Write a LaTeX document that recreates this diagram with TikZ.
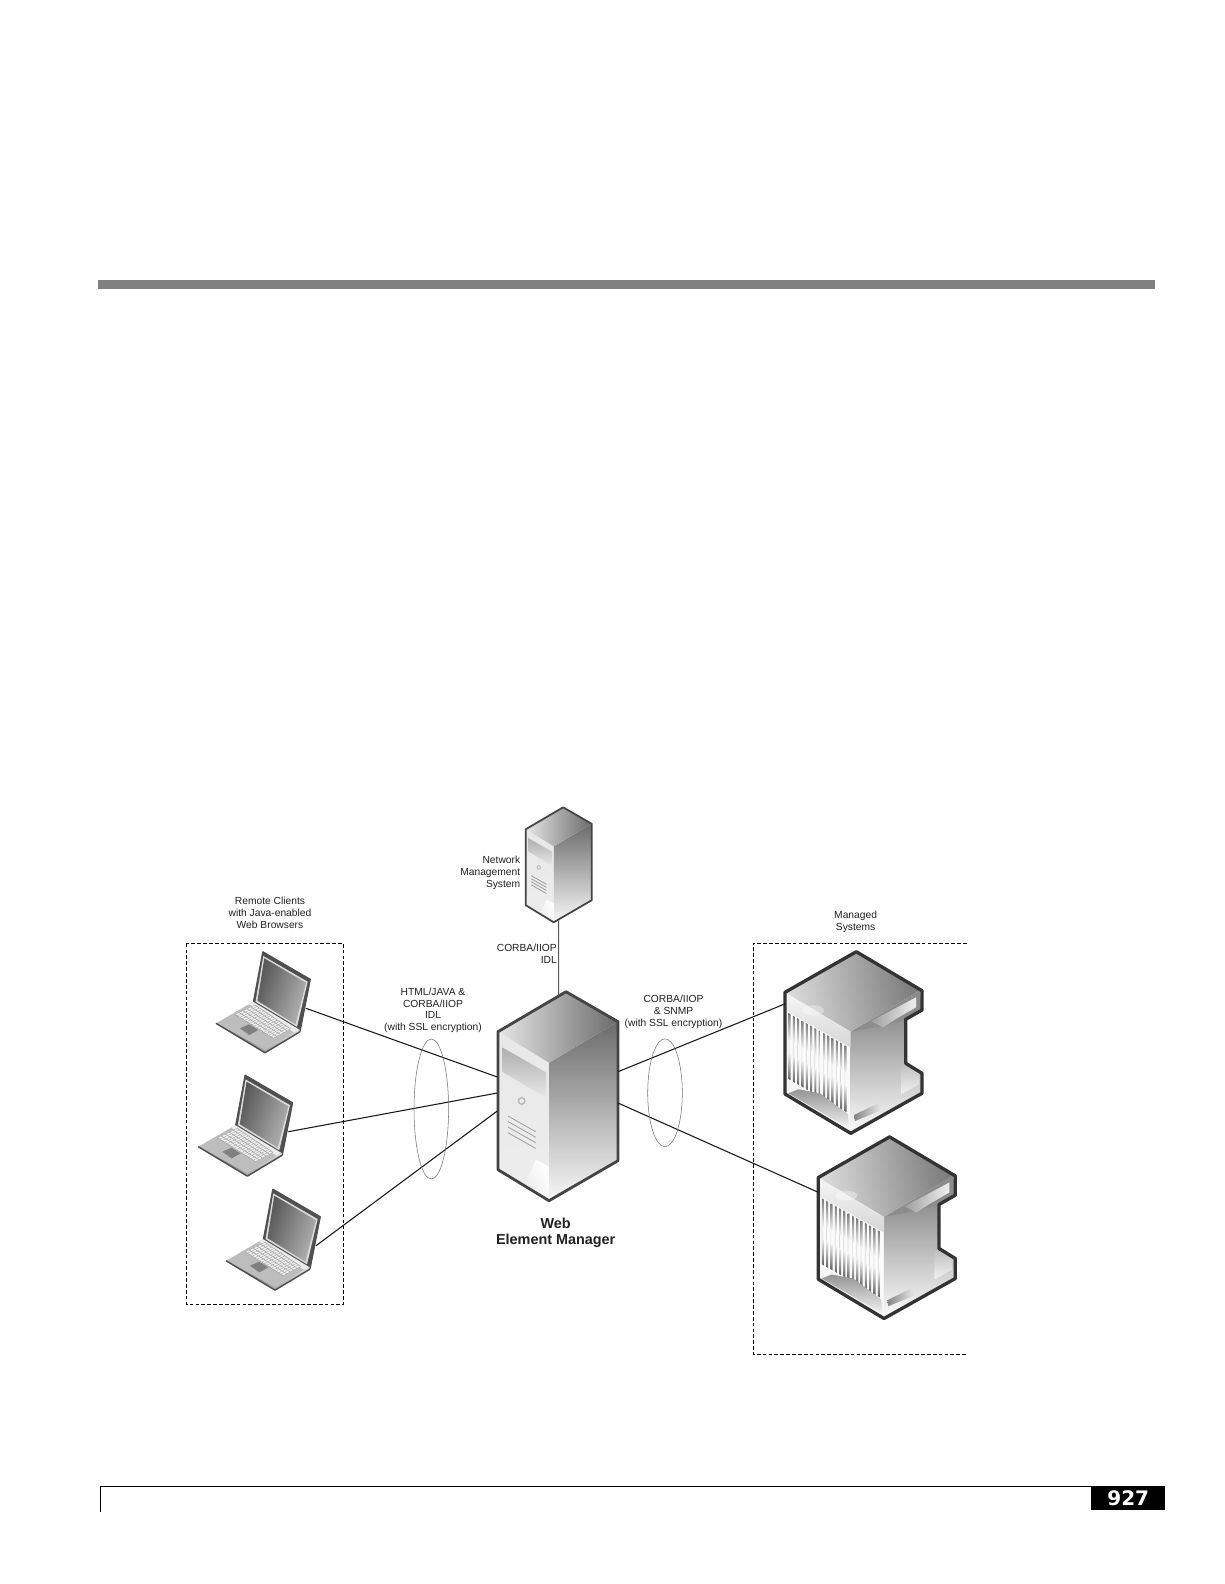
\documentclass[tikz,border=0pt]{standalone}
\usepackage{fontspec}
\setmainfont{Liberation Sans}
\newfontfamily\pagenofont{DejaVu Sans}
\usetikzlibrary{calc}
\definecolor{txtc}{HTML}{222222}
\definecolor{towerframe}{HTML}{444444}
\definecolor{chassisframe}{HTML}{333333}
\definecolor{lapframe}{HTML}{505050}
\tikzset{
  lbl/.style={inner sep=0pt,text=txtc,font=\fontsize{7.7}{8.8}\selectfont},
  boldlbl/.style={inner sep=0pt,text=txtc,font=\bfseries\fontsize{10.8}{12.2}\selectfont},
  boxline/.style={line width=.75pt,black,dash pattern=on 2.8pt off 1.6pt},
  linkline/.style={line width=.8pt,black!90},
  ringline/.style={line width=.4pt,black!55},
  pics/tower/.style={code={
    \coordinate (-w1) at (-.7,45.3);
    \coordinate (-w2) at (-.7,61.3);
    \coordinate (-w3) at (-.7,79.3);
    \coordinate (-e1) at (120,40);
    \coordinate (-e2) at (120,71.3);
    \coordinate (-t) at (60.7,-35.7);
    \coordinate (-b) at (60,165);
    \shade[top color=black!9,bottom color=black!7] (0,0)--(51,31)--(51,169)--(0,138)--cycle;
    \shade[left color=black!8,right color=white,shading angle=120] (25,154)--(51,169)--(51,135)--(38,128)--cycle;
    \shade[top color=black!58,bottom color=black!3] (51,31)--(120,-10)--(120,129)--(51,169)--cycle;
    \shade[left color=black!10,right color=black!58] (0,0)--(68,-40)--(120,-10)--(51,31)--cycle;
    \shade[top color=black!32,bottom color=black!9] (4.3,15.7)--(48,40.7)--(48,66)--(4.3,40)--cycle;
    \fill[black!28] (23.7,69.3) circle [radius=4];
    \fill[black!8] (23.7,69.3) circle [radius=2.3];
    \foreach \s in {0,5.5,11,16.7}
      \draw[black!38,line width=.6pt] (10,84.3+\s)--(37.7,100+\s);
    \draw[towerframe,line width=#1,line join=round] (0,0)--(68,-40)--(120,-10)--(120,129)--(51,169)--(0,138)--cycle;
  }},
  pics/laptop/.style={code={
    \coordinate (-port) at (90,-15);
    % base
    \fill[black!26] (0,0)--(37.3,-21.6)--(84,8.4)--(49,29.4)--cycle;
    \fill[black!8] (37.3,-21.6)--(83,6.7)--(84,8.4)--(78,9)--(33,-19)--cycle;
    % lip
    \shade[left color=black!60,right color=black!12] (0,0)--(49,26.5)--(84,5.5)--(84,8.4)--(49,29.4)--cycle;
    \draw[lapframe,line width=1.1pt,line join=round] (0,0)--(49,29.4)--(84,8.4);
    % keyboard
    \fill[black!6] (19,-9)--(39,-18.3)--(74.7,5.7)--(57.3,15)--cycle;
    \foreach \t in {0,.2,.4,.6,.8,1}
      \draw[black!40,line width=.35pt] ($(19,-9)!\t!(39,-18.3)$)--($(57.3,15)!\t!(74.7,5.7)$);
    \foreach \t in {0,.0625,...,1.01}
      \draw[black!35,line width=.3pt] ($(19,-9)!\t!(57.3,15)$)--($(39,-18.3)!\t!(74.7,5.7)$);
    % touchpad
    \fill[black!50] (24,5)--(33,1)--(42.3,6.7)--(33.3,11.7)--cycle;
    % lid
    \fill[lapframe] (46.7,-71.6)--(94.3,-44)--(84.5,7)--(37.3,-21.6)--cycle;
    \fill[black!14] (47.3,-67.3)--(91.7,-41.6)--(81,3.5)--(39.5,-21.6)--cycle;
    \shade[left color=black!66,right color=black!30,shading angle=70] (48.3,-65)--(90,-40.5)--(79.5,1)--(41.5,-22.5)--cycle;
    \draw[lapframe,line width=.9pt,line join=round] (46.7,-71.6)--(94.3,-44)--(84,8.4);
    \draw[lapframe,line width=.7pt] (46.7,-71.6)--(37.3,-21.6);
  }},
  pics/chassis/.style={code={
    \fill[black!4] (0,0)--(65.7,39.4)--(65.7,141)--(0,101.7)--cycle;
    % right face
    \shade[top color=black!50,bottom color=black!1] (65.7,39.4)--(120.7,8)--(120.7,71)--(137,81)--(137,101)--(65.7,141)--cycle;
    \shade[top color=black!26,bottom color=black!5] (120.7,71)--(134,81)--(134,92)--(116,102)--(116,75)--cycle;
    % notch shadow and slat
    \fill[black!45] (135,-2)--(137,17.7)--(120.7,27)--(100,33)--(65.7,39.4)--cycle;
    \shade[left color=black!38,right color=black!6] (131,5)--(131,15)--(112,26)--(98,35)--(86,29)--cycle;
    % top face
    \shade[left color=black!14,right color=black!52,shading angle=100] (0,0)--(71.3,-40.6)--(135,-2)--(65.7,39.4)--cycle;
    % front top band
    \shade[top color=black!4,bottom color=black!16] (2,2)--(65.7,39.4)--(65.7,55)--(2,19)--cycle;
    \fill[white,opacity=.35] (28,18) ellipse [x radius=11,y radius=5];
    % fins
    \fill[black!2] (3,20)--(64.5,55)--(64.5,123)--(3,88)--cycle;
    \foreach \i in {0,...,13}{
      \pgfmathsetmacro{\fx}{3.6+\i*4.3}
      \pgfmathsetmacro{\ft}{20.5+(\fx-3)*.57}
      \shade[top color=black!52,bottom color=black!6] (\fx,\ft)--(\fx+2,\ft+1.2)--(\fx+2,\ft+27.2)--(\fx,\ft+26)--cycle;
      \shade[top color=black!6,bottom color=black!62] (\fx,\ft+40)--(\fx+2,\ft+41.2)--(\fx+2,\ft+67.2)--(\fx,\ft+66)--cycle;
      \fill[black!14] (\fx,\ft+26)--(\fx+.7,\ft+26.4)--(\fx+.7,\ft+40.4)--(\fx,\ft+40)--cycle;
    }
    % swoosh
    \shade[top color=black!42,bottom color=black!5] (3.3,101)--(13.3,97)--(35,101)--(63,122)--(64,136)--cycle;
    % slot
    \shade[left color=black!48,right color=black!8] (69,122.7)--(93,111)--(96.7,117.7)--(70,128.7)--cycle;
    \draw[chassisframe,line width=2.5pt,line join=round] (0,0)--(71.3,-40.6)--(137,-1.6)--(137,17.7)--(120.7,27)--(120.7,71)--(137,81)--(137,101)--(65.7,141)--(0,101.7)--cycle;
  }}
}
\begin{document}
\begin{tikzpicture}[x=.75pt,y=-.75pt]
\useasboundingbox (0,0) rectangle (1224,1584);
\fill[white] (0,0) rectangle (1224,1584);
% page furniture
\fill[black!50] (98,280) rectangle (1155,289);
\coordinate (footA) at (100.3,1511.7);
\coordinate (footB) at (100.3,1486.3);
\node[fill=black,minimum width=55.5pt,minimum height=18pt,inner sep=0pt,anchor=north west,text=white,font=\pagenofont\bfseries\fontsize{15}{15}\selectfont] (pageno) at (1091,1486) {927};
\draw[black,line width=.8pt] (footA)--(footB)--(footB-|pageno.west);
% group frames
\draw[boxline] (186.3,943.7) rectangle (343.7,1304);
\draw[boxline,line width=.7pt] (966.5,943.3)--(753.3,943.3)--(753.3,1354.3)--(966.5,1354.3);
% equipment
\pic (nms) [scale=.55] at (525.7,829.3) {tower=1.3pt};
\pic (wem) at (498,1031.7) {tower=2.1pt};
\pic (lapA) at (216,1023.3) {laptop};
\pic (lapB) at (198.3,1146.7) {laptop};
\pic (lapC) at (226,1260.7) {laptop};
\pic (chA) at (785,992.3) {chassis};
\pic (chB) at (818.3,1177.5) {chassis};
\coordinate (chAport) at (784.7,1004);
\coordinate (chBport) at (818.3,1192.3);
% connectors
\draw[linkline,black!65] (nms-b)--(wem-t);
\draw[linkline] (lapA-port)--(wem-w1);
\draw[linkline] (lapB-port)--(wem-w2);
\draw[linkline] (lapC-port)--(wem-w3);
\draw[linkline] (wem-e1)--(chAport);
\draw[linkline] (wem-e2)--(chBport);
% bundling rings
\node[draw=none,inner sep=0pt] (ringL) at (431.3,1109) {};
\node[draw=none,inner sep=0pt] (ringR) at (665,1092.8) {};
\draw[ringline] (ringL) ellipse [x radius=17.3,y radius=70];
\draw[ringline] (ringR) ellipse [x radius=17.3,y radius=54];
% labels
\node[lbl,align=center] (tClients) at (270,913) {Remote Clients\\with Java-enabled\\Web Browsers};
\node[lbl,align=center] (tManaged) at (855.6,921.5) {Managed\\Systems};
\node[lbl,align=right,anchor=east] (tNms) at (520.5,873) {Network\\Management\\System};
\node[lbl,align=right,anchor=east] (tIdl) at (557,954) {CORBA/IIOP\\IDL};
\node[lbl,align=center] (tHtml) at (433,1010.3) {HTML/JAVA \&\\CORBA/IIOP\\IDL\\(with SSL encryption)};
\node[lbl,align=center] (tSnmp) at (673.5,1011.8) {CORBA/IIOP\\\& SNMP\\(with SSL encryption)};
\node[boldlbl,align=center] (tWem) at (555.7,1233) {Web\\Element Manager};
\end{tikzpicture}
\end{document}
